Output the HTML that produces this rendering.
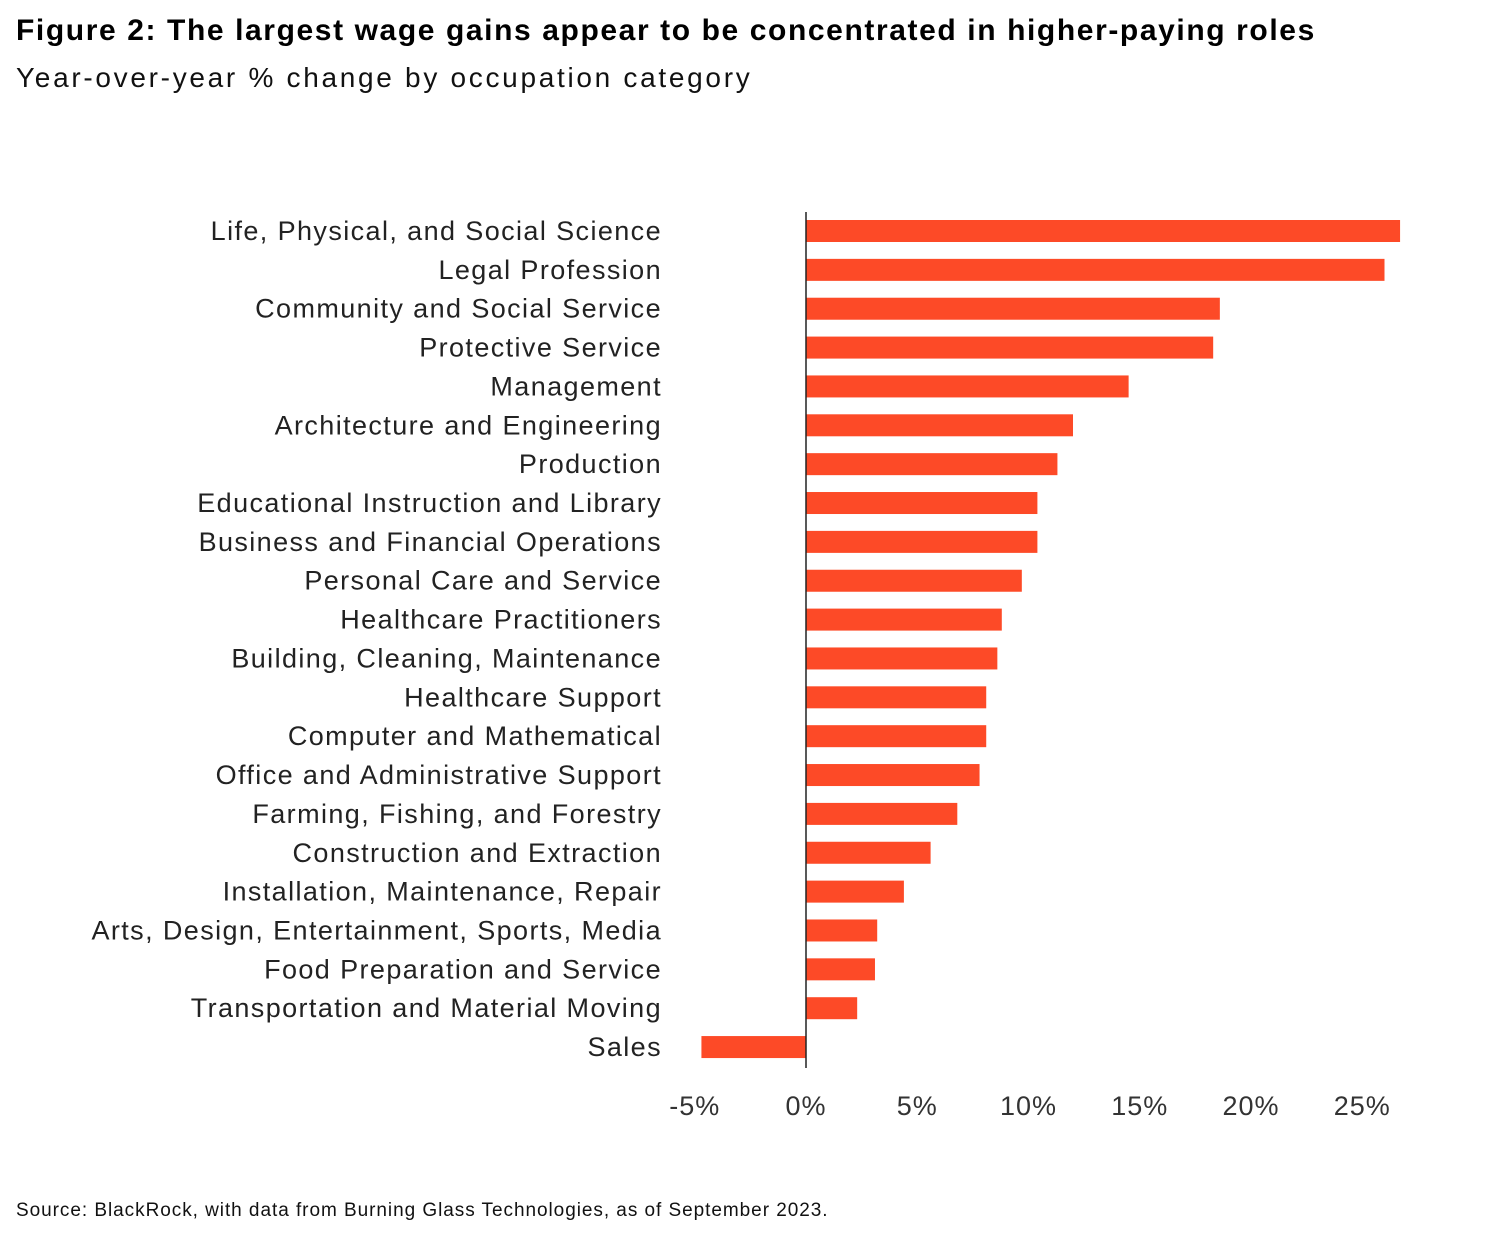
<!DOCTYPE html>
<html><head><meta charset="utf-8"><style>
body{margin:0;background:#fff;width:1488px;height:1240px;overflow:hidden;font-family:"Liberation Sans",sans-serif;color:#000}
#title{position:absolute;left:16px;top:14px;font-size:30px;font-weight:bold;letter-spacing:1.6px;white-space:nowrap}
#sub{position:absolute;left:16px;top:62px;font-size:28px;color:#111;letter-spacing:2.7px;white-space:nowrap}
#src{position:absolute;left:16px;top:1200px;font-size:19px;color:#111;letter-spacing:0.95px;white-space:nowrap}
svg{position:absolute;left:0;top:0}
</style></head><body>
<div id="title">Figure 2: The largest wage gains appear to be concentrated in higher-paying roles</div>
<div id="sub">Year-over-year % change by occupation category</div>
<svg id="chart" width="1488" height="1240"></svg>
<div id="src">Source: BlackRock, with data from Burning Glass Technologies, as of September 2023.</div>
<script>
const categories=["Life, Physical, and Social Science","Legal Profession","Community and Social Service","Protective Service","Management","Architecture and Engineering","Production","Educational Instruction and Library","Business and Financial Operations","Personal Care and Service","Healthcare Practitioners","Building, Cleaning, Maintenance","Healthcare Support","Computer and Mathematical","Office and Administrative Support","Farming, Fishing, and Forestry","Construction and Extraction","Installation, Maintenance, Repair","Arts, Design, Entertainment, Sports, Media","Food Preparation and Service","Transportation and Material Moving","Sales"];
const values=[26.7,26.0,18.6,18.3,14.5,12.0,11.3,10.4,10.4,9.7,8.8,8.6,8.1,8.1,7.8,6.8,5.6,4.4,3.2,3.1,2.3,-4.7];
const ticks=[-5,0,5,10,15,20,25];
const tickLabels=["-5%","0%","5%","10%","15%","20%","25%"];
const svg=document.getElementById('chart');const NS="http://www.w3.org/2000/svg";
const x=v=>806+v*22.25;
const y=i=>231+i*38.86;
function mk(t,a){const e=document.createElementNS(NS,t);for(const k in a)e.setAttribute(k,a[k]);svg.appendChild(e);return e;}
categories.forEach((c,i)=>{
 const r=mk('rect',{x:Math.min(x(0),x(values[i])),y:y(i)-11,width:Math.abs(x(values[i])-x(0)),height:22,fill:'#fd4a27'});
 
 
 const t=mk('text',{x:662,y:y(i)+9,'text-anchor':'end','font-size':27,fill:'#222','letter-spacing':'1.4','font-family':'Liberation Sans, sans-serif'});
 t.textContent=c;
 
 
});
const ax=mk('line',{x1:x(0),x2:x(0),y1:212,y2:1068,stroke:'#222','stroke-width':1.5});


ticks.forEach((v,i)=>{
 const t=mk('text',{x:x(v),y:1115,'text-anchor':'middle','font-size':27,fill:'#333','letter-spacing':'1','font-family':'Liberation Sans, sans-serif'});
 t.textContent=tickLabels[i];
 
 
});
</script>
</body></html>
